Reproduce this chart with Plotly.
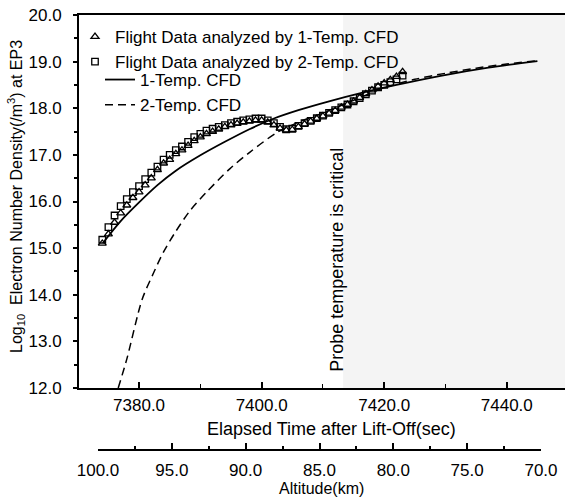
import plotly.graph_objects as go

W, H = 565, 499

# ---------------- data ----------------
time_data = [7374, 7375, 7376, 7377, 7378, 7379, 7380, 7381, 7382, 7383, 7384,
             7385, 7386, 7387, 7388, 7389, 7390, 7391, 7392, 7393, 7394, 7395,
             7396, 7397, 7398, 7399, 7400, 7401, 7402, 7403, 7404, 7405, 7406,
             7407, 7408, 7409, 7410, 7411, 7412, 7413, 7414, 7415, 7416, 7417,
             7418, 7419, 7420, 7421, 7422, 7423]
ne_1temp_data = [15.10, 15.30, 15.55, 15.75, 15.92, 16.08, 16.20, 16.35, 16.50, 16.68, 16.82,
                 16.90, 17.02, 17.10, 17.20, 17.30, 17.38, 17.45, 17.50, 17.55, 17.60, 17.64,
                 17.67, 17.70, 17.72, 17.74, 17.74, 17.70, 17.64, 17.57, 17.53, 17.54, 17.60,
                 17.66, 17.72, 17.78, 17.83, 17.89, 17.95, 18.02, 18.08, 18.15, 18.23, 18.31,
                 18.39, 18.47, 18.54, 18.61, 18.68, 18.78]
ne_2temp_data = [15.18, 15.45, 15.70, 15.90, 16.05, 16.20, 16.33, 16.48, 16.62, 16.75, 16.90,
                 17.00, 17.10, 17.18, 17.28, 17.38, 17.45, 17.52, 17.56, 17.60, 17.64, 17.68,
                 17.71, 17.74, 17.76, 17.78, 17.78, 17.74, 17.68, 17.60, 17.55, 17.56, 17.62,
                 17.68, 17.73, 17.79, 17.84, 17.90, 17.96, 18.02, 18.08, 18.15, 18.22, 18.30,
                 18.38, 18.45, 18.50, 18.56, 18.62, 18.70]

time_cfd1 = [7374.1, 7377, 7380, 7383, 7386, 7390, 7394, 7398, 7402, 7406, 7411,
             7416, 7422, 7429, 7437, 7445]
ne_cfd1 = [15.11, 15.58, 15.98, 16.35, 16.66, 16.99, 17.28, 17.55, 17.78, 17.96, 18.15,
           18.32, 18.50, 18.69, 18.87, 19.01]

time_cfd2 = [7376.6, 7378.0, 7380.5, 7382.3, 7384, 7386, 7388.3, 7391, 7394.8, 7398, 7402.5,
             7406, 7410, 7415, 7420, 7425, 7430, 7435, 7440, 7445]
ne_cfd2 = [12.00, 12.62, 13.90, 14.45, 14.92, 15.36, 15.80, 16.20, 16.70, 17.05, 17.48,
           17.70, 17.90, 18.17, 18.44, 18.62, 18.75, 18.86, 18.95, 19.02]

critical_start = 7413.3
x_range = [7370.2, 7449.5]
y_range = [12.0, 20.0]
alt_range = [100.0, 70.0]

# ---------------- layout helpers ----------------
def px_x(p):
    return p / W

def px_y(p):
    return 1 - p / H

FONT = "Arial, Liberation Sans, sans-serif"

fig = go.Figure()

fig.add_trace(go.Scatter(x=time_cfd1, y=ne_cfd1, mode="lines", name="1-Temp. CFD",
                         legend="legend2", legendrank=1,
                         line=dict(color="black", width=1.8, shape="spline", smoothing=0.8)))
fig.add_trace(go.Scatter(x=time_cfd2, y=ne_cfd2, mode="lines", name="2-Temp. CFD",
                         legend="legend2", legendrank=2,
                         line=dict(color="black", width=1.5, dash="8px,5px", shape="spline",
                                   smoothing=0.8)))
fig.add_trace(go.Scatter(x=time_data, y=ne_1temp_data, mode="markers",
                         name="Flight Data analyzed by 1-Temp. CFD", legendrank=1,
                         marker=dict(symbol="triangle-up-open", size=7, color="black",
                                     line=dict(width=1.3, color="black"))))
fig.add_trace(go.Scatter(x=time_data, y=ne_2temp_data, mode="markers",
                         name="Flight Data analyzed by 2-Temp. CFD", legendrank=2,
                         marker=dict(symbol="square-open", size=6.5, color="black",
                                     line=dict(width=1.3, color="black"))))
# dummy trace to realise the altitude axis
fig.add_trace(go.Scatter(x=alt_range, y=[0, 0], xaxis="x2", yaxis="y2", mode="markers",
                         marker=dict(opacity=0), showlegend=False, hoverinfo="skip"))

fig.add_shape(type="rect", xref="x", yref="y", x0=critical_start, x1=x_range[1],
              y0=y_range[0], y1=y_range[1], fillcolor="#f4f4f4", line=dict(width=0),
              layer="below")

fig.add_annotation(x=7412.3, y=14.75, xref="x", yref="y", text="Probe temperature is critical",
                   textangle=-90, showarrow=False, xanchor="center", yanchor="middle",
                   font=dict(size=18, color="black", family=FONT))

# axis titles
fig.add_annotation(x=px_x(16), y=px_y(197), xref="paper", yref="paper",
                   text="Log<sub>10</sub>  Electron Number Density(/m<sup>3</sup>) at EP3",
                   textangle=-90, showarrow=False, xanchor="center", yanchor="middle",
                   font=dict(size=16, color="black", family=FONT))
fig.add_annotation(x=px_x(331), y=px_y(429), xref="paper", yref="paper",
                   text="Elapsed Time after Lift-Off(sec)", showarrow=False,
                   xanchor="center", yanchor="middle",
                   font=dict(size=18, color="black", family=FONT))
fig.add_annotation(x=px_x(321), y=px_y(488), xref="paper", yref="paper",
                   text="Altitude(km)", showarrow=False,
                   xanchor="center", yanchor="middle",
                   font=dict(size=16, color="black", family=FONT))

legend_common = dict(xanchor="left", yanchor="top", bgcolor="rgba(0,0,0,0)",
                     font=dict(size=17, family=FONT, color="black"),
                     itemwidth=30, tracegroupgap=0, traceorder="normal")

fig.update_layout(
    width=W, height=H,
    margin=dict(l=0, r=0, t=0, b=0),
    paper_bgcolor="white", plot_bgcolor="rgba(0,0,0,0)",
    font=dict(family=FONT, size=17, color="black"),
    showlegend=True,
    legend=dict(x=px_x(75), y=px_y(19), **legend_common),
    legend2=dict(x=px_x(100), y=px_y(62), **legend_common),
    xaxis=dict(domain=[px_x(79), 1.0], range=x_range, showgrid=False, zeroline=False,
               showline=True, linecolor="black", linewidth=2, mirror=True,
               ticks="inside", ticklen=6, tickwidth=1.5, tickcolor="black",
               tick0=7380, dtick=20, tickformat=".1f", ticklabelstandoff=1,
               tickfont=dict(size=17),
               minor=dict(ticks="inside", ticklen=4, dtick=10, tick0=7380,
                          tickcolor="black", tickwidth=1.2),
               automargin=False, anchor="y"),
    yaxis=dict(domain=[px_y(388), px_y(15)], range=y_range, showgrid=False, zeroline=False,
               showline=True, linecolor="black", linewidth=2,
               ticks="outside", ticklen=4, tickwidth=1.5, tickcolor="black",
               tick0=12, dtick=1, tickformat=".1f", ticklabelstandoff=8,
               tickfont=dict(size=17),
               minor=dict(ticks="outside", ticklen=3, dtick=0.5, tickcolor="black"),
               automargin=False, anchor="x"),
    xaxis2=dict(domain=[px_x(98), px_x(541)], range=alt_range, showgrid=False, zeroline=False,
                showline=True, linecolor="black", linewidth=1.8,
                ticks="inside", ticklen=6, tickwidth=1.5, tickcolor="black",
                tick0=100, dtick=5, tickformat=".1f", ticklabelstandoff=5,
                tickfont=dict(size=17),
                minor=dict(ticks="inside", ticklen=3, dtick=2.5, tickcolor="black"),
                automargin=False, anchor="y2"),
    yaxis2=dict(domain=[px_y(449), px_y(447)], range=[0, 1], visible=False, anchor="x2"),
)

fig.write_html("out.html")
